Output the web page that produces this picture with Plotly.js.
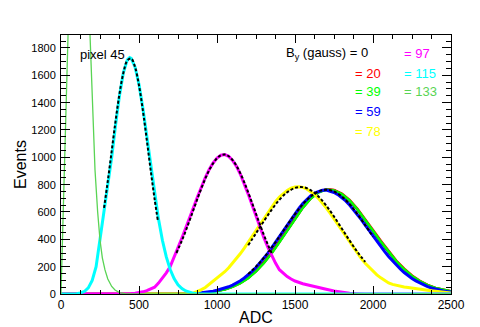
<!DOCTYPE html>
<html>
<head>
<meta charset="utf-8">
<script src="https://cdn.plot.ly/plotly-3.0.1.min.js"></script>
<style>
  html, body { margin: 0; padding: 0; background: #fff; }
  #chart { width: 480px; height: 327px; }
</style>
</head>
<body>
<div id="chart"></div>
<script>
// ADC spectra of pixel 45 for several magnetic field values B_y (gauss)
var fieldLabels = ['0', '20', '39', '59', '78', '97', '115', '133'];
var fieldColors = ['#000000', '#ff0000', '#00ff00', '#0000ff', '#ffff00', '#ff00ff', '#00ffff', '#59d454'];

// B = 0, 20, 39 (read coarser, mostly hidden under the blue one)
var groupAdc = [0, 850, 900, 950, 1000, 1050, 1100, 1150, 1200, 1250, 1300, 1350, 1400, 1450, 1500,
    1550, 1600, 1650, 1700, 1750, 1800, 1850, 1900, 1950, 2000, 2050, 2100, 2150, 2200, 2250, 2300,
    2350, 2400, 2450, 2500];
var blackEvents = [0, 2, 6, 12, 21, 35, 55, 82, 119, 168, 230, 302, 384, 470, 555, 634, 700, 745, 765,
    760, 730, 682, 618, 542, 460, 380, 305, 236, 178, 130, 92, 63, 42, 28, 18];
var redEvents = [0, 2, 6, 12, 21, 34, 54, 81, 118, 168, 228, 300, 382, 469, 554, 633, 699, 745, 767,
    762, 734, 688, 624, 549, 469, 389, 313, 243, 185, 135, 97, 67, 45, 30, 19];
var greenEvents = [0, 2, 5, 11, 20, 33, 52, 79, 116, 165, 225, 296, 378, 465, 550, 630, 697, 742, 764,
    758, 731, 684, 620, 545, 463, 383, 308, 239, 181, 132, 94, 65, 44, 29, 19];

// B = 59
var blueAdc = [0, 850, 875, 900, 925, 950, 975, 1000, 1025, 1050, 1075, 1100, 1125, 1150, 1175, 1200,
    1225, 1250, 1275, 1300, 1325, 1350, 1375, 1400, 1425, 1450, 1475, 1500, 1525, 1550, 1575, 1600,
    1625, 1650, 1675, 1700, 1725, 1750, 1775, 1800, 1825, 1850, 1875, 1900, 1925, 1950, 1975, 2000,
    2025, 2050, 2075, 2100, 2125, 2150, 2175, 2200, 2225, 2250, 2275, 2300, 2325, 2350, 2375, 2400,
    2425, 2450, 2475, 2500];
var blueEvents = [0, 3, 6, 9, 12, 16, 21, 27, 34, 42, 53, 65, 80, 97, 117, 140, 166, 194, 226, 260,
    297, 337, 378, 420, 464, 507, 549, 589, 627, 662, 692, 718, 738, 751, 759, 760, 754, 743, 727, 706,
    681, 651, 618, 582, 544, 504, 464, 424, 385, 347, 310, 274, 241, 211, 183, 157, 134, 114, 96, 80,
    66, 54, 44, 36, 29, 23, 18, 15];

// B = 78
var yellowAdc = [0, 800, 825, 850, 875, 900, 925, 950, 975, 1000, 1025, 1050, 1075, 1100, 1125, 1150,
    1175, 1200, 1225, 1250, 1275, 1300, 1325, 1350, 1375, 1400, 1425, 1450, 1475, 1500, 1525, 1550,
    1575, 1600, 1625, 1650, 1675, 1700, 1725, 1750, 1775, 1800, 1825, 1850, 1875, 1900, 1925, 1950,
    1975, 2000, 2025, 2050, 2075, 2100, 2125, 2150, 2175, 2200, 2225, 2250, 2275, 2300, 2325, 2350,
    2375, 2400, 2425, 2450, 2475, 2500];
var yellowEvents = [0, 0, 3, 8, 18, 32, 48, 70, 92, 115, 137, 163, 192, 224, 258, 296, 336, 379, 423,
    467, 512, 556, 599, 639, 676, 709, 736, 758, 774, 783, 785, 780, 769, 752, 729, 700, 667, 631, 591,
    549, 506, 462, 419, 376, 335, 296, 259, 225, 194, 165, 140, 118, 98, 81, 70, 62, 56, 51, 47, 44,
    40, 36, 32, 27, 23, 19, 15, 12, 9, 7];

// B = 97
var magentaAdc = [0, 425, 450, 475, 500, 525, 550, 575, 600, 625, 650, 675, 700, 725, 750, 775, 800,
    825, 850, 875, 900, 925, 950, 975, 1000, 1025, 1050, 1075, 1100, 1125, 1150, 1175, 1200, 1225,
    1250, 1275, 1300, 1325, 1350, 1375, 1400, 1425, 1450, 1475, 1500, 1550, 1600, 1650, 1700, 1750,
    1800, 1850, 1900, 1950, 2500];
var magentaEvents = [0, 0, 3, 6, 10, 16, 25, 36, 50, 80, 115, 155, 200, 265, 340, 410, 481, 557, 634,
    711, 784, 852, 911, 959, 994, 1015, 1020, 1007, 978, 934, 876, 807, 731, 651, 570, 490, 414, 344,
    281, 226, 178, 150, 128, 110, 95, 75, 60, 48, 35, 22, 12, 5, 2, 0, 0];

// B = 115
var cyanAdc = [0, 100, 125, 150, 175, 200, 225, 250, 275, 300, 325, 350, 375, 400, 425, 440, 450, 475,
    500, 525, 550, 575, 600, 625, 650, 675, 700, 725, 750, 775, 800, 825, 850, 875, 900, 2500];
var cyanEvents = [0, 2, 8, 18, 45, 100, 200, 395, 620, 820, 1000, 1238, 1453, 1620, 1714, 1730, 1724,
    1660, 1533, 1357, 1152, 938, 732, 548, 393, 271, 179, 113, 68, 40, 22, 12, 5, 2, 0, 0];

// B = 133 (peak far above the frame)
var lgreenAdc = [0, 100, 140, 165, 186, 200, 218, 235, 250, 265, 282, 300, 325, 346, 375, 410, 450, 2500];
var lgreenEvents = [0, 4200, 3800, 3000, 1895, 1400, 907, 600, 395, 265, 176, 110, 55, 29, 10, 2, 0, 0];

// gaussian fits (dashed)
var cyanFitAdc = [276, 300, 325, 350, 375, 400, 425, 450, 475, 500, 525, 550, 575, 600, 622];
var cyanFitEvents = [630, 826, 1047, 1267, 1465, 1618, 1708, 1722, 1659, 1526, 1342, 1127, 904, 694, 529];
var magentaFitAdc = [740, 775, 800, 825, 850, 875, 900, 925, 950, 975, 1000, 1025, 1050, 1075, 1100,
    1125, 1150, 1175, 1200, 1225, 1250, 1275, 1300, 1325, 1350];
var magentaFitEvents = [300, 391, 463, 540, 619, 698, 774, 844, 906, 956, 993, 1015, 1020, 1008, 980,
    938, 882, 817, 744, 666, 587, 509, 434, 364, 300];
var yellowFitAdc = [1200, 1250, 1300, 1350, 1400, 1450, 1500, 1550, 1600, 1650, 1700, 1750, 1800, 1850, 1900, 1950];
var yellowFitEvents = [357, 444, 532, 616, 689, 744, 776, 782, 760, 714, 647, 567, 479, 391, 308, 235];
var groupFitAdc = [1200, 1250, 1300, 1350, 1400, 1450, 1500, 1550, 1600, 1650, 1700, 1750, 1800, 1850, 1900, 1950, 2000];
var groupFitEvents = [146, 200, 265, 339, 420, 504, 585, 657, 713, 750, 762, 750, 713, 657, 585, 504, 420];

var fontFamily = 'Liberation Sans, Arial, Helvetica, sans-serif';

function hist(x, y, color, width) {
    return {
        x: x, y: y, type: 'scatter', mode: 'lines',
        line: {color: color, width: width},
        hoverinfo: 'skip', showlegend: false
    };
}

function fit(x, y) {
    return {
        x: x, y: y, type: 'scatter', mode: 'lines',
        line: {color: '#000000', width: 2, dash: '3px,2px', shape: 'spline'},
        hoverinfo: 'skip', showlegend: false
    };
}

var data = [
    hist(groupAdc, blackEvents, fieldColors[0], 2.5),
    hist(groupAdc, redEvents, fieldColors[1], 2.5),
    hist(groupAdc, greenEvents, fieldColors[2], 2.5),
    hist(blueAdc, blueEvents, fieldColors[3], 3),
    hist(yellowAdc, yellowEvents, fieldColors[4], 3),
    hist(magentaAdc, magentaEvents, fieldColors[5], 3),
    hist(cyanAdc, cyanEvents, fieldColors[6], 3),
    hist(lgreenAdc, lgreenEvents, fieldColors[7], 1.3),
    fit(cyanFitAdc, cyanFitEvents),
    fit(magentaFitAdc, magentaFitEvents),
    fit(yellowFitAdc, yellowFitEvents),
    fit(groupFitAdc, groupFitEvents)
];

// legend-like labels as text
var labelPos = [
    {x: 0.572, y: 0.927, text: 'B<sub>y</sub> (gauss) = ' + fieldLabels[0]},
    {x: 0.749, y: 0.853, text: '= ' + fieldLabels[1]},
    {x: 0.749, y: 0.780, text: '= ' + fieldLabels[2]},
    {x: 0.749, y: 0.703, text: '= ' + fieldLabels[3]},
    {x: 0.749, y: 0.629, text: '= ' + fieldLabels[4]},
    {x: 0.874, y: 0.927, text: '= ' + fieldLabels[5]},
    {x: 0.874, y: 0.853, text: '= ' + fieldLabels[6]},
    {x: 0.874, y: 0.780, text: '= ' + fieldLabels[7]}
];
var annotations = labelPos.map(function(p, i) {
    return {
        xref: 'paper', yref: 'paper', x: p.x, y: p.y, text: p.text,
        xanchor: 'left', yanchor: 'middle', showarrow: false,
        font: {family: fontFamily, size: 13, color: fieldColors[i]}
    };
});
annotations.push({
    xref: 'paper', yref: 'paper', x: 0.044, y: 0.923, text: 'pixel 45',
    xanchor: 'left', yanchor: 'middle', showarrow: false,
    font: {family: fontFamily, size: 13, color: '#000'}
});

var layout = {
    width: 480,
    height: 327,
    margin: {l: 61, r: 29, t: 35, b: 33},
    paper_bgcolor: '#ffffff',
    plot_bgcolor: '#ffffff',
    font: {family: fontFamily, color: '#000'},
    showlegend: false,
    annotations: annotations,
    xaxis: {
        range: [0, 2500],
        tick0: 0, dtick: 500,
        ticks: 'inside', ticklen: 8, tickwidth: 1, tickcolor: '#000',
        minor: {dtick: 125, ticks: 'inside', ticklen: 4, tickcolor: '#000', showgrid: false},
        showline: true, linecolor: '#000', linewidth: 1, mirror: 'allticks',
        showgrid: false, zeroline: false,
        tickfont: {size: 12},
        title: {text: 'ADC', font: {size: 16}, standoff: 0}
    },
    yaxis: {
        range: [0, 1895],
        tick0: 0, dtick: 200,
        ticks: 'inside', ticklen: 9, tickwidth: 1, tickcolor: '#000',
        minor: {dtick: 50, ticks: 'inside', ticklen: 5, tickcolor: '#000', showgrid: false},
        showline: true, linecolor: '#000', linewidth: 1, mirror: 'allticks',
        showgrid: false, zeroline: false,
        tickfont: {size: 11},
        ticklabelstandoff: 2,
        title: {text: 'Events', font: {size: 16}, standoff: 0}
    }
};

Plotly.newPlot('chart', data, layout, {staticPlot: true, displayModeBar: false});
</script>
</body>
</html>
